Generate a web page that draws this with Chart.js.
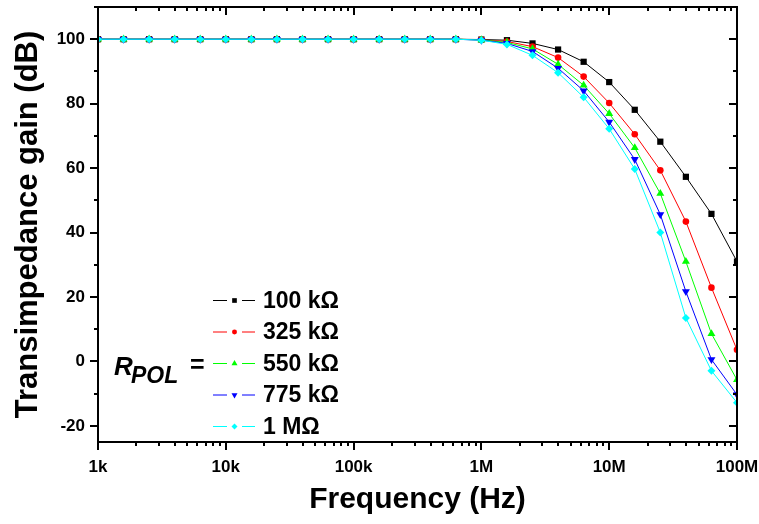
<!DOCTYPE html>
<html lang="en">
<head>
<meta charset="UTF-8">
<title>Transimpedance gain vs frequency</title>
<script src="https://cdn.jsdelivr.net/npm/chart.js@4.4.0/dist/chart.umd.min.js"></script>
<style>
  html, body { margin: 0; padding: 0; background: #fff; }
</style>
</head>
<body>
<canvas id="chart" width="759" height="524"></canvas>
<script>
// frequency points (Hz), 5 per decade
const freqs = [1000, 1585, 2512, 3981, 6310, 10000, 15850, 25120, 39810, 63100,
  100000, 158500, 251200, 398100, 631000, 1000000, 1585000, 2512000, 3981000, 6310000,
  10000000, 15850000, 25120000, 39810000, 63100000, 100000000];

// gain in dB for each R_POL
const r100k = [100, 100, 100, 100, 100, 100, 100, 100, 100, 100, 100, 100, 100, 100, 100,
  99.9, 99.7, 98.7, 96.8, 93.0, 86.7, 78.1, 68.2, 57.3, 45.8, 31.0];
const r325k = [100, 100, 100, 100, 100, 100, 100, 100, 100, 100, 100, 100, 100, 100, 100,
  99.8, 99.3, 97.7, 94.3, 88.4, 80.2, 70.5, 59.3, 43.4, 22.9, 3.6];
const r550k = [100, 100, 100, 100, 100, 100, 100, 100, 100, 100, 100, 100, 100, 100, 100,
  99.8, 99.0, 97.0, 92.2, 85.7, 76.9, 66.3, 52.1, 31.0, 8.6, -5.7];
const r775k = [100, 100, 100, 100, 100, 100, 100, 100, 100, 100, 100, 100, 100, 100, 100,
  99.7, 98.7, 96.2, 91.0, 84.0, 74.3, 62.7, 45.6, 21.7, 0.6, -10.3];
const r1M = [100, 100, 100, 100, 100, 100, 100, 100, 100, 100, 100, 100, 100, 100, 100,
  99.7, 98.4, 95.0, 89.6, 82.0, 72.2, 59.7, 40.0, 13.5, -2.9, -12.8];

const seriesNames = ['100 k\u03A9', '325 k\u03A9', '550 k\u03A9', '775 k\u03A9', '1 M\u03A9'];
const xTickValues = [1e3, 1e4, 1e5, 1e6, 1e7, 1e8];
const xTickLabels = ['1k', '10k', '100k', '1M', '10M', '100M'];
const yTickValues = [-20, 0, 20, 40, 60, 80, 100];

const FONT = "'Liberation Sans', Arial, sans-serif";

const styles = [
  { color: '#000000', point: 'rect', rot: 0, r: 4.4 },
  { color: '#ff0000', point: 'circle', rot: 0, r: 3.3 },
  { color: '#00ff00', point: 'triangle', rot: 0, r: 4.6 },
  { color: '#0000ff', point: 'triangle', rot: 180, r: 4.6 },
  { color: '#00ffff', point: 'rectRot', rot: 0, r: 4 }
];
const allSeries = [r100k, r325k, r550k, r775k, r1M];

const datasets = allSeries.map((vals, i) => ({
  label: seriesNames[i],
  data: vals.map((v, k) => ({ x: freqs[k], y: v })),
  borderColor: styles[i].color,
  backgroundColor: styles[i].color,
  borderWidth: 1,
  pointStyle: styles[i].point,
  pointRotation: styles[i].rot,
  pointRadius: styles[i].r,
  pointBorderWidth: 0,
  tension: 0,
  order: 4 - i
}));

function marker(ctx, st, x, y, r) {
  ctx.save();
  ctx.fillStyle = st.color;
  ctx.beginPath();
  if (st.point === 'rect') {
    const s = r * Math.SQRT1_2;
    ctx.rect(x - s, y - s, 2 * s, 2 * s);
  } else if (st.point === 'circle') {
    ctx.arc(x, y, r, 0, Math.PI * 2);
  } else if (st.point === 'triangle') {
    const d = st.rot ? -1 : 1;
    ctx.moveTo(x, y - d * r);
    ctx.lineTo(x + r * 0.87, y + d * r * 0.5);
    ctx.lineTo(x - r * 0.87, y + d * r * 0.5);
  } else {
    ctx.moveTo(x, y - r); ctx.lineTo(x + r, y); ctx.lineTo(x, y + r); ctx.lineTo(x - r, y);
  }
  ctx.closePath();
  ctx.fill();
  ctx.restore();
}

// frame with ticks on all four sides, legend and R_POL label
const frame = {
  id: 'frame',
  afterDraw(chart) {
    const { ctx, chartArea: a, scales: { x, y } } = chart;
    ctx.save();
    ctx.strokeStyle = '#000';
    ctx.lineWidth = 2;
    ctx.strokeRect(a.left, a.top, a.right - a.left, a.bottom - a.top);
    ctx.beginPath();
    for (let d = 1e3; d <= 1e8; d *= 10) {
      for (let m = 1; m <= 9; m++) {
        const v = d * m;
        if (v > 1e8) break;
        const px = Math.round(x.getPixelForValue(v));
        const len = m === 1 ? 8 : 4;
        ctx.moveTo(px, a.bottom); ctx.lineTo(px, a.bottom + len);
        ctx.moveTo(px, a.top); ctx.lineTo(px, a.top + len);
      }
    }
    for (let v = -20; v <= 110; v += 10) {
      const py = Math.round(y.getPixelForValue(v));
      const len = v % 20 === 0 ? 8 : 4;
      ctx.moveTo(a.left, py); ctx.lineTo(a.left - len, py);
      ctx.moveTo(a.right, py); ctx.lineTo(a.right - len, py);
    }
    ctx.stroke();

    // legend
    ctx.lineWidth = 1;
    ctx.font = 'bold 23px ' + FONT;
    ctx.textBaseline = 'middle';
    ctx.fillStyle = '#000';
    styles.forEach((st, i) => {
      const ly = 300.5 + i * 31.5;
      ctx.strokeStyle = st.color;
      ctx.beginPath();
      ctx.moveTo(213, ly); ctx.lineTo(227, ly);
      ctx.moveTo(242, ly); ctx.lineTo(255, ly);
      ctx.stroke();
      marker(ctx, st, 234.5, ly, st.r * 0.75);
      ctx.fillStyle = '#000';
      ctx.fillText(seriesNames[i], 263, ly + 1);
    });

    ctx.textBaseline = 'alphabetic';
    ctx.font = 'italic bold 26px ' + FONT;
    ctx.fillText('R', 114, 375);
    ctx.font = 'italic bold 23px ' + FONT;
    ctx.fillText('POL', 131, 383);
    ctx.font = 'bold 25px ' + FONT;
    ctx.fillText('=', 190, 373);
    ctx.restore();
  }
};

new Chart(document.getElementById('chart'), {
  type: 'line',
  data: { datasets: datasets },
  options: {
    responsive: false,
    animation: false,
    layout: { padding: { left: 0, top: 7, right: 22, bottom: 0 } },
    plugins: { legend: { display: false }, tooltip: { enabled: false } },
    scales: {
      x: {
        type: 'logarithmic',
        min: 1e3,
        max: 1e8,
        afterBuildTicks: s => { s.ticks = xTickValues.map(v => ({ value: v })); },
        afterFit: s => { s.height = 82; s.paddingLeft = 0; s.paddingRight = 0; },
        grid: { display: false },
        border: { display: false },
        ticks: {
          autoSkip: false,
          maxRotation: 0,
          padding: 7,
          color: '#000',
          font: { family: FONT, size: 17, weight: 'bold' },
          callback: (v, i) => xTickLabels[i]
        },
        title: {
          display: true,
          text: 'Frequency (Hz)',
          color: '#000',
          font: { family: FONT, size: 30, weight: 'bold' },
          padding: { top: 0, bottom: 6 }
        }
      },
      y: {
        type: 'linear',
        min: -25,
        max: 110,
        afterBuildTicks: s => { s.ticks = yTickValues.map(v => ({ value: v })); },
        afterFit: s => { s.width = 98; s.paddingTop = 0; s.paddingBottom = 0; },
        grid: { display: false },
        border: { display: false },
        ticks: {
          padding: 5,
          color: '#000',
          font: { family: FONT, size: 17, weight: 'bold' }
        },
        title: {
          display: true,
          text: 'Transimpedance gain (dB)',
          color: '#000',
          font: { family: FONT, size: 31, weight: 'bold' },
          padding: { top: 10, bottom: 0 }
        }
      }
    }
  },
  plugins: [frame]
});
</script>
</body>
</html>
